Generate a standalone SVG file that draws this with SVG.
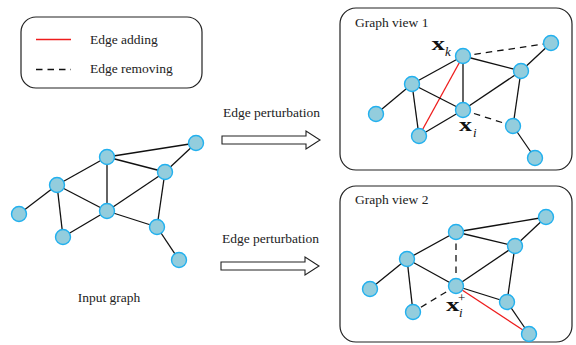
<svg xmlns="http://www.w3.org/2000/svg" width="576" height="345" viewBox="0 0 576 345">
<style>
.t{font-family:"Liberation Serif","Times New Roman",serif;font-size:13.5px;fill:#222}
.m{font-family:"Liberation Serif","Times New Roman",serif;fill:#111}
.bx{font-size:19px;font-weight:bold}
.sb{font-size:13px;font-style:italic}
.e{stroke:#111;stroke-width:1.3;fill:none}
.d{stroke:#111;stroke-width:1.3;fill:none;stroke-dasharray:6.5 5}
.r{stroke:#ee1c1c;stroke-width:1.3;fill:none}
.n{fill:#93CDDD;stroke:#22B0EE;stroke-width:1.4}
.box{fill:#fff;stroke:#222;stroke-width:1.2}
.arr{fill:#fff;stroke:#222;stroke-width:1.1}
</style>
<rect width="576" height="345" fill="#fff"/>
<g id="legend">
<rect class="box" x="21" y="17" width="181" height="71" rx="15"/>
<line class="r" x1="36" y1="39.5" x2="71" y2="39.5"/>
<text class="t" x="90" y="44">Edge adding</text>
<line class="d" x1="36" y1="69.5" x2="71" y2="69.5"/>
<text class="t" x="90" y="73">Edge removing</text>
</g>
<g id="view1-box"><rect class="box" x="340" y="8" width="232" height="162" rx="16"/><text class="t" x="355" y="27">Graph view 1</text></g>
<g id="view2-box"><rect class="box" x="340" y="186" width="232" height="156" rx="16"/><text class="t" x="355" y="204">Graph view 2</text></g>
<g id="arrow1"><text class="t" x="223" y="117">Edge perturbation</text><polygon class="arr" points="222,136 306,136 306,131 320,140 306,149 306,144 222,144"/></g>
<g id="arrow2"><text class="t" x="222" y="243">Edge perturbation</text><polygon class="arr" points="221,262 305,262 305,257 319,266 305,275 305,270 221,270"/></g>
<g id="connectors">
<line class="e" x1="107" y1="157" x2="196" y2="143"/>
<line class="e" x1="107" y1="157" x2="165" y2="172"/>
<line class="e" x1="107" y1="157" x2="57" y2="185"/>
<line class="e" x1="107" y1="157" x2="107" y2="211"/>
<line class="e" x1="196" y1="143" x2="165" y2="172"/>
<line class="e" x1="165" y1="172" x2="107" y2="211"/>
<line class="e" x1="165" y1="172" x2="157" y2="227"/>
<line class="e" x1="57" y1="185" x2="19" y2="214"/>
<line class="e" x1="57" y1="185" x2="63" y2="237"/>
<line class="e" x1="57" y1="185" x2="107" y2="211"/>
<line class="e" x1="107" y1="211" x2="63" y2="237"/>
<line class="e" x1="107" y1="211" x2="157" y2="227"/>
<line class="e" x1="157" y1="227" x2="179" y2="260"/>
<line class="d" x1="463" y1="56" x2="551" y2="43"/>
<line class="e" x1="463" y1="56" x2="521" y2="71"/>
<line class="e" x1="463" y1="56" x2="463" y2="110"/>
<line class="e" x1="463" y1="56" x2="412" y2="84"/>
<line class="r" x1="463" y1="56" x2="419" y2="136"/>
<line class="e" x1="412" y1="84" x2="376" y2="114"/>
<line class="e" x1="412" y1="84" x2="419" y2="136"/>
<line class="e" x1="412" y1="84" x2="463" y2="110"/>
<line class="e" x1="463" y1="110" x2="419" y2="136"/>
<line class="e" x1="463" y1="110" x2="521" y2="71"/>
<line class="d" x1="463" y1="110" x2="513" y2="126"/>
<line class="e" x1="521" y1="71" x2="551" y2="43"/>
<line class="e" x1="521" y1="71" x2="513" y2="126"/>
<line class="e" x1="513" y1="126" x2="535" y2="158"/>
<line class="e" x1="456" y1="232" x2="546" y2="217"/>
<line class="e" x1="456" y1="232" x2="515" y2="246"/>
<line class="e" x1="456" y1="232" x2="407" y2="259"/>
<line class="d" x1="456" y1="232" x2="456" y2="286"/>
<line class="e" x1="407" y1="259" x2="370" y2="289"/>
<line class="e" x1="407" y1="259" x2="413" y2="312"/>
<line class="e" x1="407" y1="259" x2="456" y2="286"/>
<line class="d" x1="456" y1="286" x2="413" y2="312"/>
<line class="e" x1="456" y1="286" x2="515" y2="246"/>
<line class="e" x1="456" y1="286" x2="507" y2="302"/>
<line class="r" x1="456" y1="286" x2="529" y2="334"/>
<line class="e" x1="515" y1="246" x2="546" y2="217"/>
<line class="e" x1="515" y1="246" x2="507" y2="302"/>
<line class="e" x1="507" y1="302" x2="529" y2="334"/>
</g>
<g id="input-graph">
<circle id="in-a" class="n" cx="107" cy="157" r="7.5"/>
<circle id="in-b" class="n" cx="196" cy="143" r="7.5"/>
<circle id="in-c" class="n" cx="165" cy="172" r="7.5"/>
<circle id="in-d" class="n" cx="57" cy="185" r="7.5"/>
<circle id="in-e" class="n" cx="107" cy="211" r="7.5"/>
<circle id="in-f" class="n" cx="19" cy="214" r="7.5"/>
<circle id="in-g" class="n" cx="63" cy="237" r="7.5"/>
<circle id="in-h" class="n" cx="157" cy="227" r="7.5"/>
<circle id="in-i" class="n" cx="179" cy="260" r="7.5"/>
<text class="t" x="109" y="302" text-anchor="middle">Input graph</text>
</g>
<g id="view1">
<circle id="v1-k" class="n" cx="463" cy="56" r="7.5"/>
<circle id="v1-b" class="n" cx="551" cy="43" r="7.5"/>
<circle id="v1-c" class="n" cx="521" cy="71" r="7.5"/>
<circle id="v1-d" class="n" cx="412" cy="84" r="7.5"/>
<circle id="v1-i" class="n" cx="463" cy="110" r="7.5"/>
<circle id="v1-f" class="n" cx="376" cy="114" r="7.5"/>
<circle id="v1-g" class="n" cx="419" cy="136" r="7.5"/>
<circle id="v1-h" class="n" cx="513" cy="126" r="7.5"/>
<circle id="v1-j" class="n" cx="535" cy="158" r="7.5"/>
<text class="m bx" x="431.5" y="49.5" textLength="13.5" lengthAdjust="spacingAndGlyphs">x</text>
<text class="m sb" x="445" y="56">k</text>
<text class="m bx" x="459" y="130.5" textLength="13" lengthAdjust="spacingAndGlyphs">x</text>
<text class="m sb" x="473" y="137">i</text>
</g>
<g id="view2">
<circle id="v2-a" class="n" cx="456" cy="232" r="7.5"/>
<circle id="v2-b" class="n" cx="546" cy="217" r="7.5"/>
<circle id="v2-c" class="n" cx="515" cy="246" r="7.5"/>
<circle id="v2-d" class="n" cx="407" cy="259" r="7.5"/>
<circle id="v2-i" class="n" cx="456" cy="286" r="7.5"/>
<circle id="v2-f" class="n" cx="370" cy="289" r="7.5"/>
<circle id="v2-g" class="n" cx="413" cy="312" r="7.5"/>
<circle id="v2-h" class="n" cx="507" cy="302" r="7.5"/>
<circle id="v2-j" class="n" cx="529" cy="334" r="7.5"/>
<text class="m bx" x="446" y="311" textLength="13.5" lengthAdjust="spacingAndGlyphs">x</text>
<text class="m sb" x="459" y="317">i</text>
<text class="m" x="458" y="302" font-size="13">+</text>
</g>
</svg>
